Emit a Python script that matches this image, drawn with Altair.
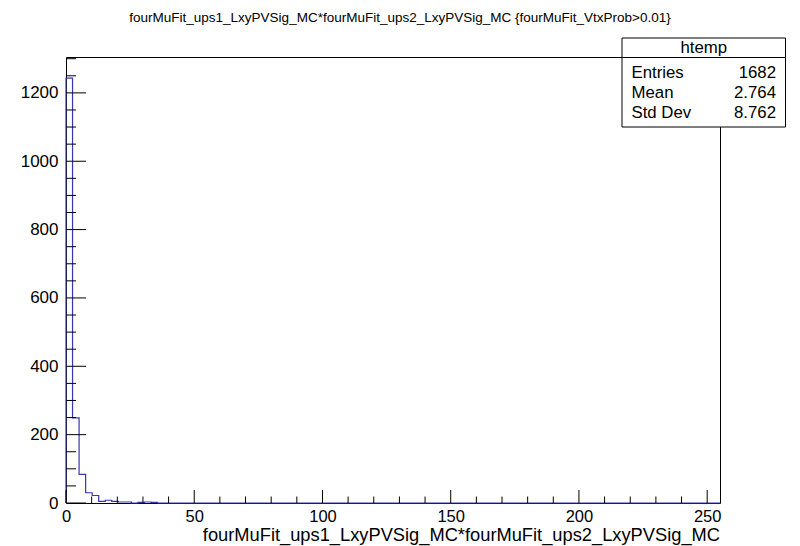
import altair as alt
import pandas as pd

# ---- data ----
title_text = "fourMuFit_ups1_LxyPVSig_MC*fourMuFit_ups2_LxyPVSig_MC {fourMuFit_VtxProb>0.01}"
x_title = "fourMuFit_ups1_LxyPVSig_MC*fourMuFit_ups2_LxyPVSig_MC"
bin_edges = [0.0, 2.55, 5.1, 7.65, 10.2, 12.75, 15.3, 17.85, 20.4, 22.95,
             25.5, 28.05, 30.6, 33.15, 35.7]
bin_counts = [1243, 249, 84, 30, 22, 5, 8, 5, 3, 3, 0, 2, 3, 2]
x_range = [0, 255]
y_range = [0, 1305]

x_major_ticks = [0, 50, 100, 150, 200, 250]
x_minor_ticks = [10, 20, 30, 40, 60, 70, 80, 90, 110, 120, 130, 140,
                 160, 170, 180, 190, 210, 220, 230, 240]
y_major_ticks = [0, 200, 400, 600, 800, 1000, 1200]
y_minor_ticks = [50, 100, 150, 250, 300, 350, 450, 500, 550, 650, 700, 750,
                 850, 900, 950, 1050, 1100, 1150, 1250, 1300]

stat_title = "htemp"
stat_names = ["Entries", "Mean", "Std Dev"]
stat_values = ["1682", "2.764", "8.762"]

FONT = "Liberation Sans"
LINE = "#3838b0"
W, H = 654, 446

# ---- step outline of the histogram ----
xs = [bin_edges[0]] + bin_edges + [x_range[1]]
ys = [0] + bin_counts + [0, 0]
hist = pd.DataFrame({"x": xs, "y": ys, "o": list(range(len(xs)))})

xscale = alt.Scale(domain=x_range, nice=False, zero=False)
yscale = alt.Scale(domain=y_range, nice=False)

base_x = alt.X("x:Q", scale=xscale,
               axis=alt.Axis(values=x_major_ticks, ticks=False, tickSize=0, domain=False,
                             grid=False, labelFontSize=16.5, labelFont=FONT, labelColor="black",
                             labelPadding=5, labelFlush=False, labelOverlap=False,
                             format="d", title=None))
base_y = alt.Y("y:Q", scale=yscale,
               axis=alt.Axis(values=y_major_ticks, ticks=False, tickSize=0, domain=False,
                             grid=False, labelFontSize=17, labelFont=FONT, labelColor="black",
                             labelPadding=8, labelFlush=False, labelOverlap=False,
                             format="d", title=None))

hist_line = alt.Chart(hist).mark_line(interpolate="step-after", color=LINE, strokeWidth=1.2).encode(
    x=base_x, y=base_y, order="o:Q")

def xticks(vals, length):
    df = pd.DataFrame({"x": vals})
    return alt.Chart(df).mark_rule(color="black", strokeWidth=1).encode(
        x=alt.X("x:Q", scale=xscale), y=alt.value(H), y2=alt.value(H - length))

def yticks(vals, length):
    df = pd.DataFrame({"y": vals})
    return alt.Chart(df).mark_rule(color="black", strokeWidth=1).encode(
        y=alt.Y("y:Q", scale=yscale), x=alt.value(0), x2=alt.value(length))

one = pd.DataFrame({"k": [0]})

def label(text, x, y, size, align, baseline="middle"):
    return alt.Chart(one).mark_text(text=text, font=FONT, fontSize=size, align=align,
                                    baseline=baseline, color="black").encode(
        x=alt.value(x), y=alt.value(y))

BX0, BX1, BY0, BY1, BHL = 556, 719.5, -19, 70, 0.5

box = alt.Chart(one).mark_rect(fill="white", stroke="black", strokeWidth=1).encode(
    x=alt.value(BX0), x2=alt.value(BX1), y=alt.value(BY0), y2=alt.value(BY1))
box_line = alt.Chart(one).mark_rule(color="black", strokeWidth=1).encode(
    x=alt.value(BX0), x2=alt.value(BX1), y=alt.value(BHL))
box_title = label(stat_title, (BX0 + BX1) / 2, -9, 16.8, "center")

row_y = [15.5, 36.3, 56]
stat_layers = []
for name, val, yy in zip(stat_names, stat_values, row_y):
    stat_layers.append(label(name, 565.5, yy, 16.8, "left"))
    stat_layers.append(label(val, 710, yy, 16.8, "right"))

top_title = label(title_text, 334, -39, 13.5, "center")
bottom_title = label(x_title, W, H + 38, 18.3, "right", "alphabetic")

chart = alt.layer(
    hist_line,
    xticks(x_major_ticks, 13), xticks(x_minor_ticks, 6.5),
    yticks(y_major_ticks, 20), yticks(y_minor_ticks, 10),
    box, box_line, box_title, *stat_layers, top_title, bottom_title,
).properties(
    width=W, height=H,
    padding={"left": 58, "top": 49, "right": 72, "bottom": 46},
    autosize="none",
    background="white",
).configure_view(stroke="black", strokeWidth=1)

chart.save("out.html", embed_options={"renderer": "svg", "actions": False})
